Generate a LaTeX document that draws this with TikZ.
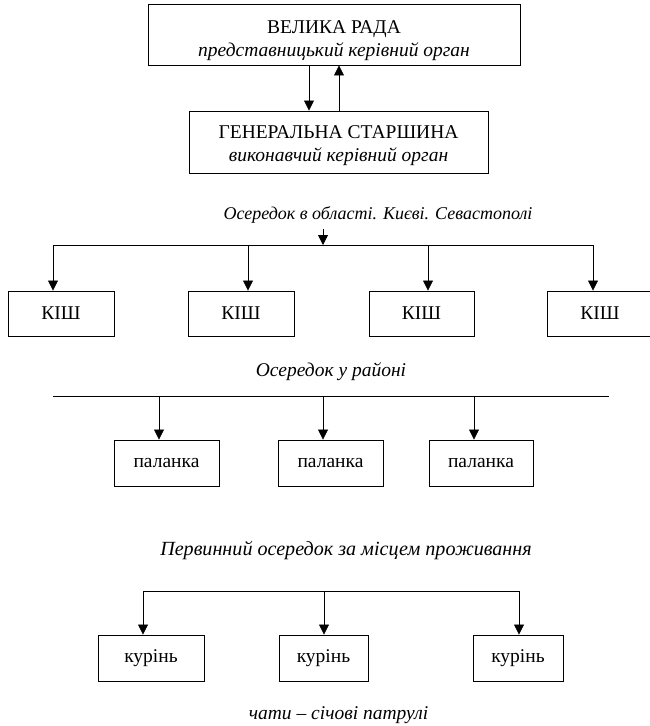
\documentclass[tikz,border=0pt]{standalone}
\usepackage{fontspec}
\setmainfont{Liberation Serif}
\usetikzlibrary{arrows.meta}
\newcommand{\twolines}[3]{\raisebox{#1}[\height][\depth]{\begin{tabular}{@{}c@{}}#2\\[-1pt]\textit{#3}\end{tabular}}}
\tikzset{
  box/.style={draw, line width=0.9pt, inner sep=0pt, align=center, font=\fontsize{19.5}{24}\selectfont},
  lbl/.style={inner sep=0pt, font=\fontsize{19.5}{24}\selectfont\itshape},
  arr/.style={line width=0.8pt, -{Triangle[length=10pt,width=10pt]}},
  bus/.style={line width=0.8pt}
}
\begin{document}
\begin{tikzpicture}[x=1pt,y=-1pt]
\useasboundingbox (0,0) rectangle (649,726);
\node[box, minimum width=372pt, minimum height=61pt] (rada) at (334,34.5){\twolines{-6pt}{ВЕЛИКА РАДА}{представницький керівний орган}};
\node[box, minimum width=299pt, minimum height=62pt] (starsh) at (338.5,142){\twolines{-3pt}{ГЕНЕРАЛЬНА СТАРШИНА}{виконавчий керівний орган}};
\draw[arr]([xshift=-25pt]rada.south) -- ([xshift=-29.5pt]starsh.north);
\draw[arr]([xshift=0.5pt]starsh.north) -- ([xshift=5pt]rada.south);

\node[lbl, font=\fontsize{18}{22}\selectfont\itshape] (obl) at (378,215){Осередок в області. Києві. Севастополі};
\coordinate (obl0) at (323,229);
\coordinate (obl1) at (323,245);
\draw[arr](obl0) -- (obl1);
\coordinate (k1) at (53,245);
\coordinate (k2) at (248,245);
\coordinate (k3) at (428,245);
\coordinate (k4) at (593,245);
\draw[bus](k1) -- (k4);
\node[box, minimum width=106pt, minimum height=45pt] (kish1) at (61,313.5){КІШ};
\node[box, minimum width=106pt, minimum height=45pt] (kish2) at (241,313.5){КІШ};
\node[box, minimum width=105pt, minimum height=45pt] (kish3) at (421.5,313.5){КІШ};
\node[box, minimum width=106pt, minimum height=45pt] (kish4) at (600,313.5){КІШ};
\draw[arr](k1) -- (k1 |- kish1.north);
\draw[arr](k2) -- (k2 |- kish2.north);
\draw[arr](k3) -- (k3 |- kish3.north);
\draw[arr](k4) -- (k4 |- kish4.north);

\node[lbl] (rai) at (331,372){Осередок у районі};
\coordinate (p0) at (53,396);
\coordinate (p4) at (609,396);
\coordinate (p1) at (159,396);
\coordinate (p2) at (323,396);
\coordinate (p3) at (474,396);
\draw[bus](p0) -- (p4);
\node[box, minimum width=105pt, minimum height=46pt] (pal1) at (166.5,463){паланка};
\node[box, minimum width=105pt, minimum height=46pt] (pal2) at (330.5,463){паланка};
\node[box, minimum width=104pt, minimum height=46pt] (pal3) at (481,463){паланка};
\draw[arr](p1) -- (p1 |- pal1.north);
\draw[arr](p2) -- (p2 |- pal2.north);
\draw[arr](p3) -- (p3 |- pal3.north);

\node[lbl, font=\fontsize{20.1}{24}\selectfont\itshape] (perv) at (346,550){Первинний осередок за місцем проживання};
\coordinate (c1) at (143,591);
\coordinate (c2) at (324,591);
\coordinate (c3) at (519,591);
\node[box, minimum width=106pt, minimum height=46pt] (kur1) at (151,658){курінь};
\node[box, minimum width=89pt, minimum height=46pt] (kur2) at (323.5,658){курінь};
\node[box, minimum width=90pt, minimum height=46pt] (kur3) at (518,658){курінь};
\draw[bus](c1) -- (c3);
\draw[arr](c1) -- (c1 |- kur1.north);
\draw[arr](c2) -- (c2 |- kur2.north);
\draw[arr](c3) -- (c3 |- kur3.north);
\node[lbl] (chaty) at (338.5,715){чати – сiчові патрулі};

\end{tikzpicture}
\end{document}
